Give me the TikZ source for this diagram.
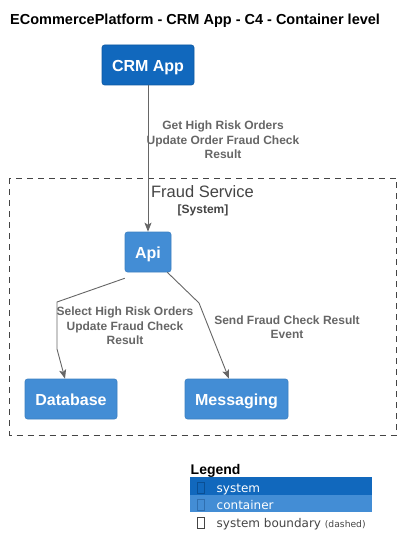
\documentclass[tikz,border=0pt]{standalone}
\usepackage{fontspec}
\setmainfont{Liberation Sans}
\newfontfamily\dejavu{DejaVu Sans}
\usetikzlibrary{arrows.meta}
\definecolor{sysblue}{HTML}{1168BD}
\definecolor{contblue}{HTML}{438DD5}
\definecolor{contborder}{HTML}{3C7FC0}
\definecolor{edgegray}{HTML}{666666}
\definecolor{darkgray}{HTML}{444444}
\definecolor{tofudark}{HTML}{0A4F94}
\definecolor{tofucont}{HTML}{2F6FB0}
\tikzset{
  elem/.style={rectangle, rounded corners=2.5pt, inner sep=0pt, text=white,
    text height=13.5pt, text depth=0pt,
    font=\fontsize{16}{19}\selectfont\bfseries},
  sysbox/.style={elem, fill=sysblue, draw=sysblue!85!black, line width=0.6pt},
  contbox/.style={elem, fill=contblue, draw=contborder, line width=0.6pt},
  edge/.style={draw=edgegray, line width=0.9pt,
    -{Stealth[length=9pt,width=7pt,inset=2pt]}},
  elabel/.style={text=edgegray, align=center, inner sep=0pt,
    font=\fontsize{12}{14.5}\selectfont\bfseries},
  bound/.style={draw=darkgray, line width=1pt, dash pattern=on 6pt off 5pt},
  legtext/.style={anchor=base west, inner sep=0pt, font=\dejavu\fontsize{12}{14}\selectfont},
}
\begin{document}
\begin{tikzpicture}[x=1pt,y=-1pt]
\useasboundingbox (0,0) rectangle (402,556);
% title
\node[anchor=base west, inner sep=0pt, font=\fontsize{14.5}{16}\selectfont\bfseries] (title) at (10,24.5) {ECommercePlatform - CRM App - C4 - Container level};
% boundary
\draw[bound] (9.5,178) rectangle (396.5,435);
\node[anchor=base, inner sep=0pt, text=darkgray, font=\fontsize{16.5}{19}\selectfont] (fs) at (202.5,197) {Fraud Service};
\node[anchor=base, inner sep=0pt, text=darkgray, font=\fontsize{12}{14}\selectfont\bfseries] (fssys) at (203,213) {[System]};
% nodes
\node[sysbox, minimum width=92pt, minimum height=40pt] (crm) at (148,65) {CRM App};
\node[contbox, minimum width=46pt, minimum height=40pt] (api) at (148,252) {Api};
\node[contbox, minimum width=92pt, minimum height=40pt] (db) at (71,399) {Database};
\node[contbox, minimum width=103pt, minimum height=40pt] (msg) at (236.5,399) {Messaging};
% edges
\draw[edge] (crm.south) -- (api.north);
\node[elabel] (l1) at (223,140) {Get High Risk Orders\\Update Order Fraud Check\\Result};
\coordinate (b1) at (57,302);
\coordinate (b2) at (57,349);
\draw[edge] ([yshift=-6pt]api.south west) -- (b1) -- (b2) -- ([xshift=-6pt]db.north);
\node[elabel] (l2) at (125,326) {Select High Risk Orders\\Update Fraud Check\\Result};
\coordinate (c1) at (199,303);
\draw[edge] ([xshift=-4pt]api.south east) -- (c1) -- ([xshift=-7.5pt]msg.north);
\node[elabel] (l3) at (287,327) {Send Fraud Check Result\\Event};
% legend
\node[anchor=base west, inner sep=0pt, font=\fontsize{14}{16}\selectfont\bfseries] (leg) at (190.5,474) {Legend};
\fill[sysblue] (190,477) rectangle (372,494.5);
\fill[contblue] (190,494.5) rectangle (372,512);
\draw[tofudark, line width=0.9pt] (197.5,482) rectangle (204.5,493);
\draw[tofucont, line width=0.9pt] (197.5,499) rectangle (204.5,510);
\draw[darkgray, line width=0.8pt] (197.5,517) rectangle (204.5,528);
\node[legtext, text=white] (lsys) at (216.5,492) {system};
\node[legtext, text=white] (lcont) at (216.5,509) {container};
\node[legtext, text=darkgray] (lbnd) at (216.5,527) {system boundary {\fontsize{9.2}{10}\selectfont(dashed)}};
\end{tikzpicture}
\end{document}
